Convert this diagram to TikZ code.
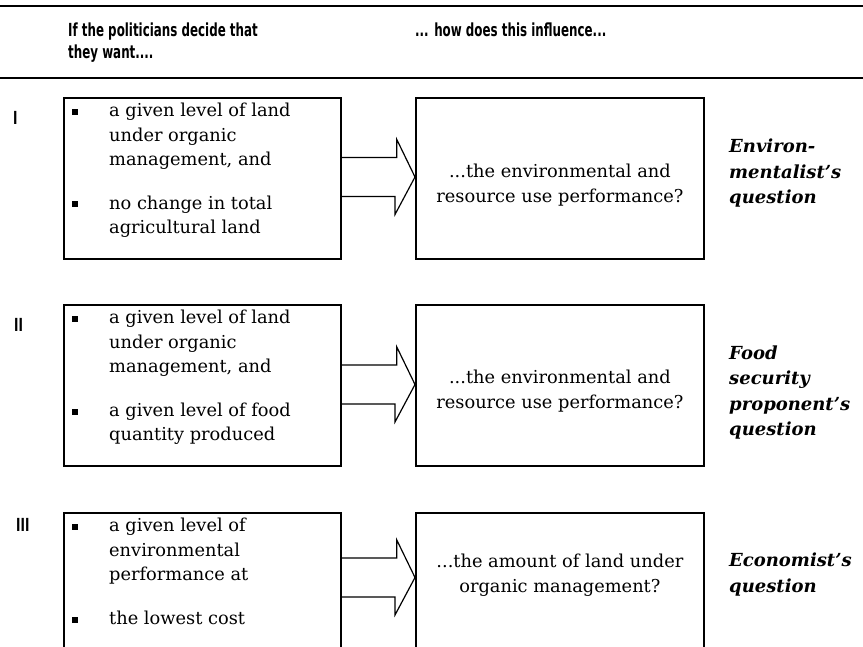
\documentclass[tikz,border=0pt]{standalone}
\usepackage{fontspec}
\setmainfont{DejaVu Serif}
\newfontfamily\entetefont[FakeStretch=0.66]{DejaVu Sans}
\usepackage{tikz}
\usetikzlibrary{calc}

\tikzset{
    cadre/.style={draw, line width=1.8pt, anchor=north west, inner sep=0pt, minimum height=161pt},
    gauche/.style={cadre, minimum width=277pt},
    droite/.style={cadre, minimum width=288pt},
    puce/.style={anchor=west, align=left, inner sep=0pt, font=\fontsize{17.8}{24.5}\selectfont},
    reponse/.style={anchor=center, align=center, inner sep=0pt, font=\fontsize{17.8}{25}\selectfont},
    question/.style={anchor=west, align=left, inner sep=0pt, font=\fontsize{18}{25.5}\selectfont\bfseries\itshape},
    entete/.style={anchor=base west, inner sep=0pt, font={\entetefont\bfseries\fontsize{18}{21}\selectfont}},
    fleche/.style={line width=1.2pt, line join=miter}
}

\begin{document}
\begin{tikzpicture}[x=1pt, y=-1pt]
    \useasboundingbox (0,0) rectangle (863,647);
    \clip (0,0) rectangle (863,647);

    % Filets du tableau
    \draw[line width=2.2pt] (0,6) -- (863,6);
    \draw[line width=2.2pt] (0,78) -- (863,78);

    % En-tetes
    \node[entete] (titre1) at (68,37) {If the politicians decide that};
    \node[entete] (titre1b) at (68,59) {they want....};
    \node[entete] (titre2) at (415,37) {... how does this influence...};

    % Ligne I
    \node[gauche] (gauche1) at (63,97) {};
    \node[droite] (droite1) at (415,97) {};
    \node[entete] (num1) at (13,125) {I};
    \fill ($(gauche1.north west)+(9,12)$) rectangle ++(6,6);
    \fill ($(gauche1.north west)+(9,104.5)$) rectangle ++(6,6);
    \node[puce] (puce1a) at ($(gauche1.north west)+(46,39.5)$) {a given level of land\\under organic\\management, and};
    \node[puce] (puce1b) at ($(gauche1.north west)+(46,119.5)$) {no change in total\\agricultural land};
    \coordinate (f1) at ($(gauche1.north east)+(0,80)$);
    \draw[fleche] ($(f1)+(0,-19.5)$) -- ++(55,0) -- ++(0,-18) -- (droite1.west |- f1) -- ++(-20,37.5) -- ++(0,-18) -- ++(-55,0);
    \node[reponse] (rep1) at ($(droite1.north)+(0,88)$) {...the environmental and\\resource use performance?};
    \node[question] (quest1) at (729,173.5) {Environ-\\mentalist's\\question};

    % Ligne II
    \node[gauche] (gauche2) at (63,304) {};
    \node[droite] (droite2) at (415,304) {};
    \node[entete] (num2) at (14,332) {II};
    \fill ($(gauche2.north west)+(9,12)$) rectangle ++(6,6);
    \fill ($(gauche2.north west)+(9,104.5)$) rectangle ++(6,6);
    \node[puce] (puce2a) at ($(gauche2.north west)+(46,39.5)$) {a given level of land\\under organic\\management, and};
    \node[puce] (puce2b) at ($(gauche2.north west)+(46,119.5)$) {a given level of food\\quantity produced};
    \coordinate (f2) at ($(gauche2.north east)+(0,80.5)$);
    \draw[fleche] ($(f2)+(0,-19.5)$) -- ++(55,0) -- ++(0,-18) -- (droite2.west |- f2) -- ++(-20,37.5) -- ++(0,-18) -- ++(-55,0);
    \node[reponse] (rep2) at ($(droite2.north)+(0,87)$) {...the environmental and\\resource use performance?};
    \node[question] (quest2) at (729,392.5) {Food\\security\\proponent's\\question};

    % Ligne III
    \node[gauche] (gauche3) at (63,512) {};
    \node[droite] (droite3) at (415,512) {};
    \node[entete] (num3) at (16,531) {III};
    \fill ($(gauche3.north west)+(9,12)$) rectangle ++(6,6);
    \fill ($(gauche3.north west)+(9,104.5)$) rectangle ++(6,6);
    \node[puce] (puce3a) at ($(gauche3.north west)+(46,39.5)$) {a given level of\\environmental\\performance at};
    \node[puce] (puce3b) at ($(gauche3.north west)+(46,105.5)$) {the lowest cost};
    \coordinate (f3) at ($(gauche3.north east)+(0,65.5)$);
    \draw[fleche] ($(f3)+(0,-19.5)$) -- ++(55,0) -- ++(0,-18) -- (droite3.west |- f3) -- ++(-20,37.5) -- ++(0,-18) -- ++(-55,0);
    \node[reponse] (rep3) at ($(droite3.north)+(0,63)$) {...the amount of land under\\organic management?};
    \node[question] (quest3) at (729,574.5) {Economist's\\question};
\end{tikzpicture}
\end{document}
